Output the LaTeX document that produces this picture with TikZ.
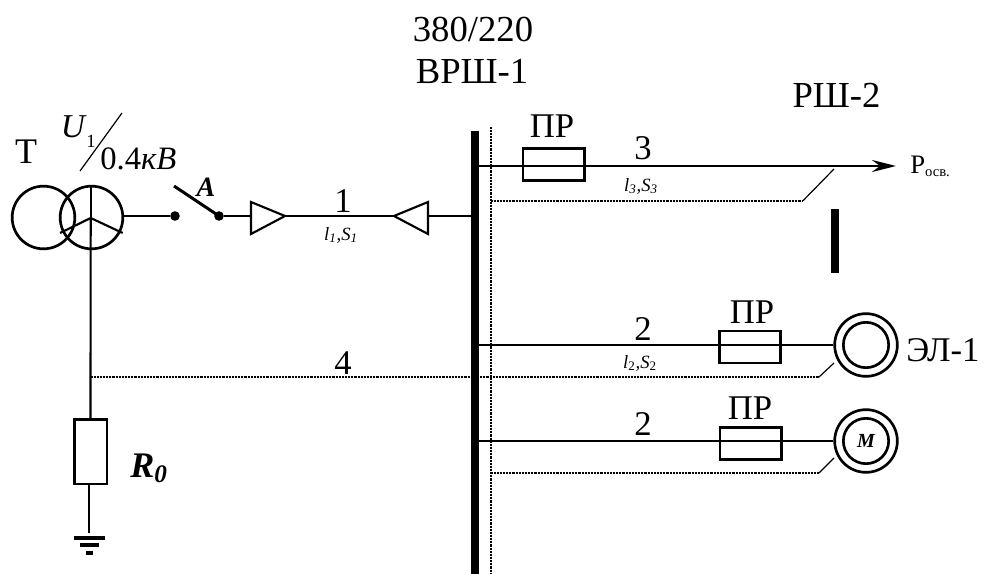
\documentclass[tikz,border=0pt]{standalone}
\usepackage{fontspec}
\setmainfont{Liberation Serif}
\usetikzlibrary{arrows.meta}
\newcommand{\fsz}[1]{\fontsize{#1}{#1}\selectfont}
\tikzset{
  x=0.75pt,y=-0.75pt,
  wire/.style={line width=1.6pt,black},
  dots/.style={line width=1.6pt,dash pattern=on 0.6pt off 0.5pt,black},
  lead/.style={line width=0.9pt,black},
  busbar/.style={fill=black,draw=none,inner sep=0pt,minimum width=6pt},
  fuse/.style={draw,line width=2pt,fill=none,inner sep=0pt,minimum width=46pt,minimum height=24pt},
  ring/.style={draw,circle,line width=2pt,inner sep=0pt},
  pt/.style={circle,fill=black,inner sep=0pt,minimum size=7.2pt},
  big/.style={anchor=base,inner sep=0pt,font=\fsz{27.5}},
  mid/.style={anchor=base,inner sep=0pt,font=\fsz{26}},
  small/.style={anchor=base,inner sep=0pt,font=\fsz{14}\itshape},
}
\begin{document}
\begin{tikzpicture}
\useasboundingbox (0,0) rectangle (995,574);
% transformer
\node[ring,minimum size=47pt] (t1) at (43.5,217.5) {};
\node[ring,minimum size=47pt] (t2) at (91.5,217.5) {};
\coordinate (star) at (90.7,218);
\coordinate (starL) at (60,233);
\coordinate (starR) at (122.7,233);
\coordinate (starU) at (90.7,185);
\draw[wire] (starL) -- (star) -- (starR);
\draw[wire] (starU) -- (star);
% resistor and earth
\node[draw,line width=2pt,inner sep=0pt,minimum width=24.5pt,minimum height=48.5pt] (R0) at (90.5,451.5) {};
\draw[wire] (star) -- (R0.north);
\coordinate (gnd) at (89,533);
\draw[wire] (R0.south -| gnd) -- (gnd);
\fill (74,536.3) rectangle (104.5,540);
\fill (79.5,543.3) rectangle (98.5,547);
\fill (85.5,551) rectangle (93,555);
% busbars
\node[busbar,minimum height=332pt] (bus) at (475,352.5) {};
\node[busbar,minimum height=48pt] (bus2) at (835,241) {};
\coordinate (dotTop) at (491,127);
\coordinate (dotBot) at (491,574);
\draw[dots,line width=1.2pt] (dotTop) -- (dotBot);
% feeder 1
\node[pt] (d1) at (175,216) {};
\node[pt] (d2) at (219,216) {};
\coordinate (blade) at (174,186);
\draw[line width=2.2pt] (d2.center) -- (blade);
\draw[wire] (d1 -| t2.east) -- (d1);
\coordinate (a1) at (251,216);
\coordinate (a2) at (285,216);
\coordinate (b1) at (394,216);
\coordinate (b2) at (428,216);
\draw[wire] (d2) -- (a1);
\draw[wire,line join=miter] (251,202) -- (285,216) -- (251,234) -- cycle;
\draw[wire] (a2) -- (b1);
\draw[wire,line join=miter] (428,202) -- (394,216) -- (428,234) -- cycle;
\draw[wire] (b2) -- (b2 -| bus.west);
% feeder 3
\node[fuse] (f3) at (553.5,164.5) {};
\coordinate (p3) at (896,166);
\draw[line width=2.2pt,-{Stealth[length=18pt,width=9pt,inset=6pt]}] (479,166) -- (p3);
\coordinate (k3) at (803,200.7);
\coordinate (k3e) at (834,169);
\draw[dots] (491,200.7) -- (k3);
\draw[lead] (k3) -- (k3e);
% feeder 2
\node[fuse] (f2) at (750,347) {};
\node[ring,minimum size=47pt] (m1) at (866,345) {};
\node[ring,minimum size=34pt] (m1i) at (866,345) {};
\draw[wire] (479,345) -- (m1.west);
\coordinate (k2) at (819,377);
\coordinate (k2e) at (834,363);
\coordinate (k4) at (91,377);
\draw[dots] (k4) -- (k2);
\draw[lead] (k2) -- (k2e);
% feeder 2b
\node[fuse] (f2b) at (750.5,443.5) {};
\node[ring,minimum size=47pt] (m2) at (866,441) {};
\node[ring,minimum size=34pt] (m2i) at (866,441) {\fsz{15}\bfseries\itshape M};
\draw[line width=1.7pt] (479,441) -- (m2.west);
\coordinate (k5) at (819,473);
\coordinate (k5e) at (834,458);
\draw[dots] (491,473) -- (k5);
\draw[lead] (k5) -- (k5e);
% ratio stroke
\coordinate (sl1) at (80,171);
\coordinate (sl2) at (122,113);
\draw[lead] (sl1) -- (sl2);
% labels
\node[big] (l380) at (473,42) {380/220};
\node[big] (lvrsh) at (472,84) {ВРШ-1};
\node[mid,font=\fsz{27.5}] (lrsh) at (836.5,108) {РШ-2};
\node[mid,font=\fsz{27}] (lT) at (26,163) {Т};
\node[mid,font=\fsz{25}] (lU) at (73,138) {\itshape U};
\node[inner sep=0pt,anchor=base,font=\fsz{14}] (lU1) at (91,147) {1};
\node[mid,anchor=base west,font=\fsz{24.5}] (lV) at (100,170) {0.4\textit{кВ}};
\node[anchor=base,inner sep=0pt,font=\fsz{21}\bfseries\itshape] (lA) at (206,196) {A};
\node[mid] (n1) at (343,212) {1};
\node[small] (s1) at (341,240) {l\textsubscript{1},S\textsubscript{1}};
\node[mid] (n3) at (643,160) {3};
\node[small] (s3) at (641,191) {l\textsubscript{3},S\textsubscript{3}};
\node[mid] (n2) at (643,340) {2};
\node[small] (s2) at (640,368) {l\textsubscript{\upshape 2},S\textsubscript{\upshape 2}};
\node[mid] (n2b) at (643,435) {2};
\node[mid] (n4) at (343,374) {4};
\node[mid] (pr3) at (552,138) {ПР};
\node[mid] (pr2) at (752,323) {ПР};
\node[mid] (pr2b) at (750,419) {ПР};
\node[mid] (el1) at (943,361) {ЭЛ-1};
\node[anchor=base west,inner sep=0pt,font=\fsz{20}] (pos) at (910,174) {Р\raisebox{-2pt}{\fsz{11}осв.}};
\node[anchor=base west,inner sep=0pt,font=\fsz{27}\bfseries\itshape] (r0) at (130,477) {R\textsubscript{0}};
\end{tikzpicture}
\end{document}
